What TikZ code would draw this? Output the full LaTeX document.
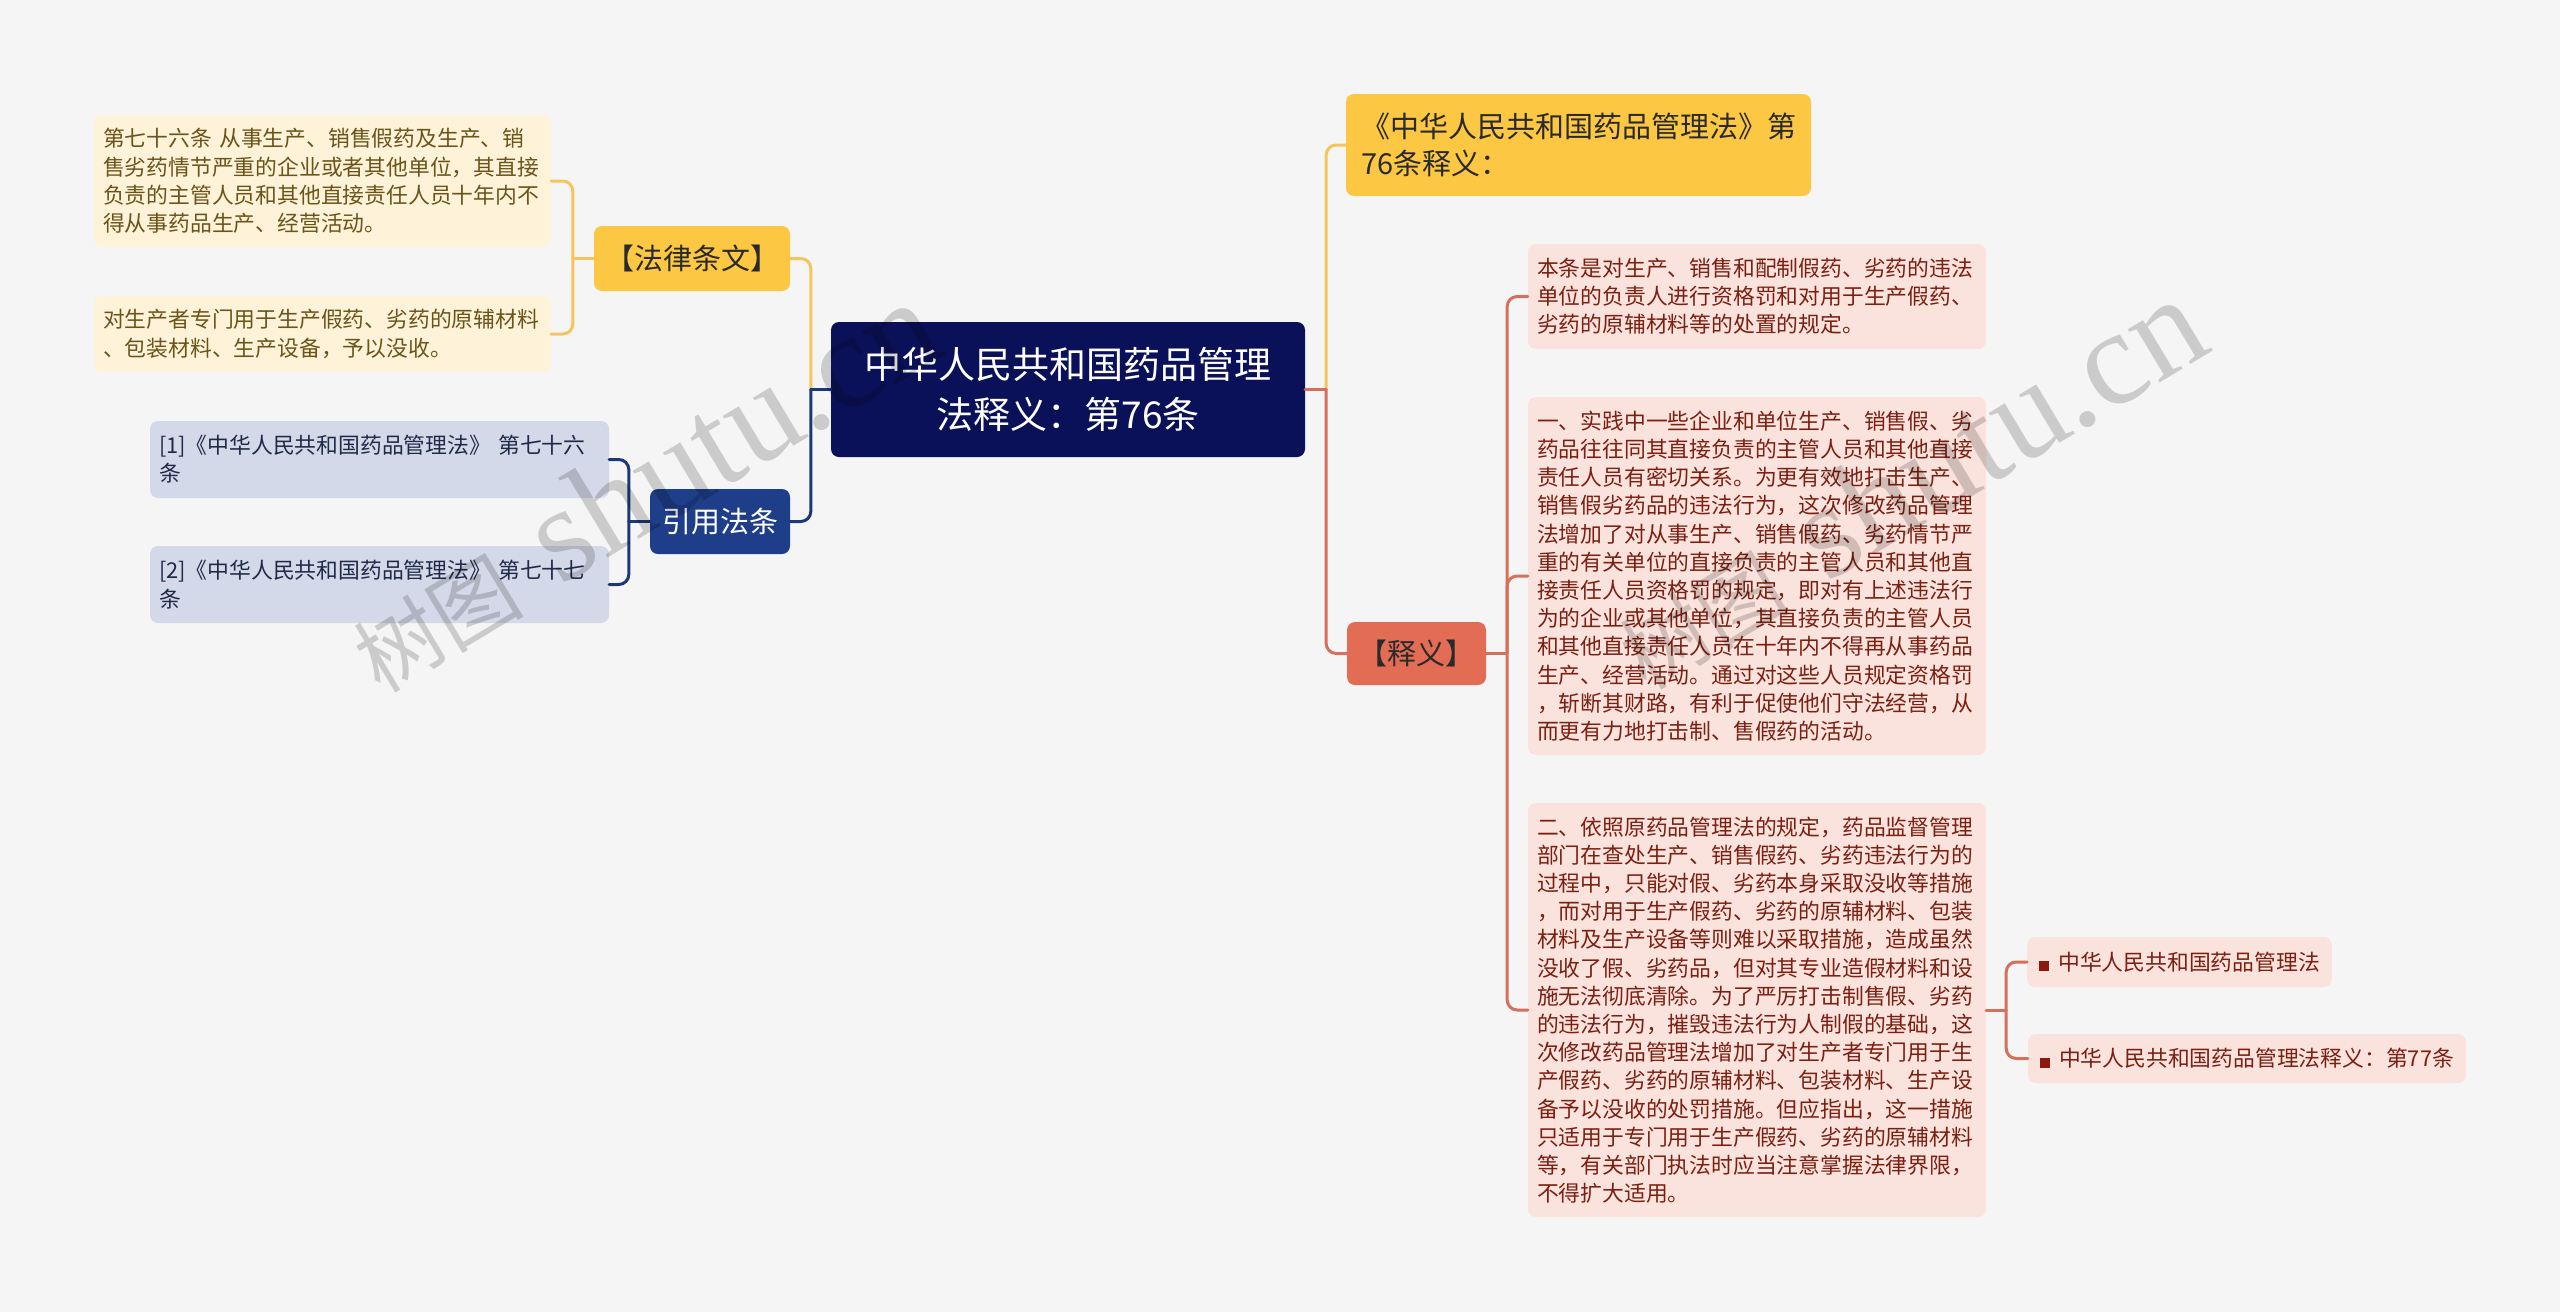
\documentclass[tikz,border=0pt]{standalone}
\usepackage{fontspec}
\setmainfont{Noto Sans CJK SC}
\newfontfamily\wmlatin{Liberation Serif}
\newfontfamily\wmcjk{Noto Sans CJK SC}
\definecolor{bgc}{HTML}{F5F5F5}
\definecolor{rootfill}{HTML}{0B1159}
\definecolor{yelfill}{HTML}{FCC844}
\definecolor{yelline}{HTML}{F4C55C}
\definecolor{yelleaf}{HTML}{FEF3D9}
\definecolor{yeltext}{HTML}{6A5419}
\definecolor{navyfill}{HTML}{1F3E8A}
\definecolor{navyline}{HTML}{1C3878}
\definecolor{blueleaf}{HTML}{D3D9E8}
\definecolor{bluetext}{HTML}{1F2A48}
\definecolor{coralfill}{HTML}{E36C55}
\definecolor{coralline}{HTML}{D66F5C}
\definecolor{pinkleaf}{HTML}{FBE3DD}
\definecolor{pinktext}{HTML}{7A2012}
\definecolor{bulletc}{HTML}{8B1A0E}
\definecolor{darktext}{HTML}{2A2A2A}
\begin{document}
\begin{tikzpicture}[x=1pt,y=-1pt,
  boxbase/.style={rounded corners=8pt, inner ysep=0pt},
  leafstyle/.style={boxbase, inner xsep=9pt, align=left, font=\fontsize{21.8}{28.2}\selectfont},
  yleaf/.style={leafstyle, fill=yelleaf, text=yeltext},
  bleaf/.style={leafstyle, fill=blueleaf, text=bluetext},
  pleaf/.style={leafstyle, fill=pinkleaf, text=pinktext},
  topic/.style={boxbase, inner xsep=0pt, align=center, font=\fontsize{29}{37}\selectfont},
  conn/.style={line width=3pt, rounded corners=10pt, line cap=round},
  wmark/.style={text=black, text opacity=0.17, rotate=31, anchor=base west, inner sep=0pt},
]
\useasboundingbox (0,0) rectangle (2560,1312);
\fill[bgc] (0,0) rectangle (2560,1312);

% root
\node[boxbase, fill=rootfill, text=white, minimum width=474pt, minimum height=135pt,
      align=center, font=\fontsize{37}{50}\selectfont] (root) at (1068,389.5)
      {中华人民共和国药品管理\\法释义：第76条};

% main topics
\node[topic, fill=yelfill, text=darktext, minimum width=196pt, minimum height=65pt] (law) at (692,258.5) {【法律条文】};
\node[topic, fill=navyfill, text=white, minimum width=140pt, minimum height=65pt] (cite) at (720,521.5) {引用法条};
\node[topic, fill=coralfill, text=darktext, minimum width=139pt, minimum height=63pt] (shiyi) at (1416.5,653.5) {【释义】};
\node[boxbase, fill=yelfill, text=darktext, inner xsep=15pt, text width=435pt, align=left,
      minimum height=102pt, font=\fontsize{29}{37}\selectfont] (title) at (1578.5,145)
      {《中华人民共和国药品管理法》第\\76条释义：};

% left leaves
\node[yleaf, text width=439pt, minimum height=132pt] (la) at (322.5,181)
{第七十六条 从事生产、销售假药及生产、销\\
售劣药情节严重的企业或者其他单位，其直接\\
负责的主管人员和其他直接责任人员十年内不\\
得从事药品生产、经营活动。};
\node[yleaf, text width=439pt, minimum height=76pt] (lb) at (322.5,334)
{对生产者专门用于生产假药、劣药的原辅材料\\
、包装材料、生产设备，予以没收。};
\node[bleaf, text width=441pt, minimum height=77pt] (c1) at (379.5,459.5)
{[1]《中华人民共和国药品管理法》 第七十六\\条};
\node[bleaf, text width=441pt, minimum height=77pt] (c2) at (379.5,584.5)
{[2]《中华人民共和国药品管理法》 第七十七\\条};

% right leaves
\node[pleaf, text width=440pt, minimum height=105pt] (t1) at (1757,296.5)
{本条是对生产、销售和配制假药、劣药的违法\\
单位的负责人进行资格罚和对用于生产假药、\\
劣药的原辅材料等的处置的规定。};
\node[pleaf, text width=440pt, minimum height=358pt] (t2) at (1757,576)
{一、实践中一些企业和单位生产、销售假、劣\\
药品往往同其直接负责的主管人员和其他直接\\
责任人员有密切关系。为更有效地打击生产、\\
销售假劣药品的违法行为，这次修改药品管理\\
法增加了对从事生产、销售假药、劣药情节严\\
重的有关单位的直接负责的主管人员和其他直\\
接责任人员资格罚的规定，即对有上述违法行\\
为的企业或其他单位，其直接负责的主管人员\\
和其他直接责任人员在十年内不得再从事药品\\
生产、经营活动。通过对这些人员规定资格罚\\
，斩断其财路，有利于促使他们守法经营，从\\
而更有力地打击制、售假药的活动。};
\node[pleaf, text width=440pt, minimum height=414pt] (t3) at (1757,1010)
{二、依照原药品管理法的规定，药品监督管理\\
部门在查处生产、销售假药、劣药违法行为的\\
过程中，只能对假、劣药本身采取没收等措施\\
，而对用于生产假药、劣药的原辅材料、包装\\
材料及生产设备等则难以采取措施，造成虽然\\
没收了假、劣药品，但对其专业造假材料和设\\
施无法彻底清除。为了严厉打击制售假、劣药\\
的违法行为，摧毁违法行为人制假的基础，这\\
次修改药品管理法增加了对生产者专门用于生\\
产假药、劣药的原辅材料、包装材料、生产设\\
备予以没收的处罚措施。但应指出，这一措施\\
只适用于专门用于生产假药、劣药的原辅材料\\
等，有关部门执法时应当注意掌握法律界限，\\
不得扩大适用。};
\node[pleaf, inner xsep=12pt, minimum width=303pt, minimum height=50pt] (b1) at (2179.5,962)
{\textcolor{bulletc}{\rule[-1pt]{10pt}{10pt}}\hspace{9pt}中华人民共和国药品管理法};
\node[pleaf, inner xsep=12pt, minimum width=438pt, minimum height=49pt] (b2) at (2247,1058.5)
{\textcolor{bulletc}{\rule[-1pt]{10pt}{10pt}}\hspace{9pt}中华人民共和国药品管理法释义：第77条};

% junction coordinates
\coordinate (jl) at ([xshift=-20pt]root.west);
\coordinate (jr) at ([xshift=21pt]root.east);
\coordinate (jlaw) at ([xshift=-21pt]law.west);
\coordinate (jcite) at ([xshift=-21pt]cite.west);
\coordinate (jshiyi) at ([xshift=21pt]shiyi.east);
\coordinate (jt3) at ([xshift=20pt]t3.east);

% connectors left
\draw[conn, yelline] (jl) |- (law.east);
\draw[conn, navyline] (jl) |- (cite.east);
\draw[conn, navyline] (root.west) -- (jl);
\draw[conn, yelline] (jlaw) |- (la.east);
\draw[conn, yelline] (jlaw) |- (lb.east);
\draw[conn, yelline] (law.west) -- (jlaw);
\draw[conn, navyline] (jcite) |- (c1.east);
\draw[conn, navyline] (jcite) |- (c2.east);
\draw[conn, navyline] (cite.west) -- (jcite);
% connectors right
\draw[conn, yelline] (jr) |- (title.west);
\draw[conn, coralline] (jr) |- (shiyi.west);
\draw[conn, coralline] (root.east) -- (jr);
\draw[conn, coralline] (jshiyi) |- (t1.west);
\draw[conn, coralline] (jshiyi) |- (t2.west);
\draw[conn, coralline] (jshiyi) |- (t3.west);
\draw[conn, coralline] (shiyi.east) -- (jshiyi);
\draw[conn, coralline] (jt3) |- (b1.west);
\draw[conn, coralline] (jt3) |- (b2.west);
\draw[conn, coralline] (t3.east) -- (jt3);

% watermarks
\node[wmark, font=\wmcjk\fontsize{85}{85}\selectfont] (wm1a) at (380,695) {树图};
\node[wmark, font=\wmlatin\fontsize{135}{135}\selectfont] (wm1b) at (560,587) {shutu.cn};
\node[wmark, font=\wmcjk\fontsize{85}{85}\selectfont] (wm2a) at (1646,692) {树图};
\node[wmark, font=\wmlatin\fontsize{135}{135}\selectfont] (wm2b) at (1826,584) {shutu.cn};
\end{tikzpicture}
\end{document}
